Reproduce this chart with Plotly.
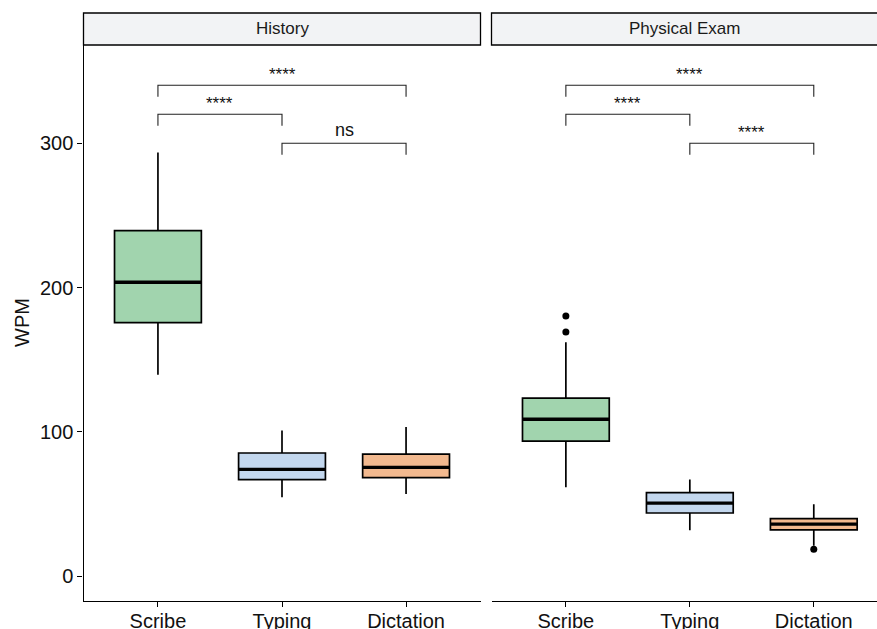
import plotly.graph_objects as go

W, H = 877, 629

panels = ["History", "Physical Exam"]
methods = ["Scribe", "Typing", "Dictation"]
colors = ["#A1D4AE", "#C3D7EE", "#F2B98F"]

# History
hist_q1 = [175.7, 66.8, 68.2]
hist_med = [203.7, 74.0, 75.4]
hist_q3 = [239.5, 85.3, 84.6]
hist_lo = [139.6, 54.6, 56.9]
hist_hi = [293.6, 101.0, 103.3]
hist_out = [[], [], []]

# Physical Exam
pe_q1 = [93.6, 43.7, 32.0]
pe_med = [108.7, 50.6, 36.0]
pe_q3 = [123.4, 57.8, 39.8]
pe_lo = [61.5, 31.7, 21.0]
pe_hi = [162.1, 67.0, 49.8]
pe_out = [[180.3, 169.2], [], [18.5]]

# significance brackets (group index 1-based)
bracket_g1 = [1, 1, 2]
bracket_g2 = [3, 2, 3]
bracket_y = [340.3, 320.2, 300.1]
hist_labels = ["****", "****", "ns"]
pe_labels = ["****", "****", "****"]

yticks = [0, 100, 200, 300]

FONT = "Liberation Sans, Arial, sans-serif"
BOXW = 0.7
TIP = 8.0

fig = go.Figure()

data = [
    (hist_q1, hist_med, hist_q3, hist_lo, hist_hi, hist_out, hist_labels),
    (pe_q1, pe_med, pe_q3, pe_lo, pe_hi, pe_out, pe_labels),
]

for p, (q1, med, q3, lo, hi, outs, labels) in enumerate(data):
    xa = "x" if p == 0 else "x2"
    for i, m in enumerate(methods):
        xi = i + 1
        fig.add_trace(go.Box(
            x=[xi], q1=[q1[i]], median=[med[i]], q3=[q3[i]],
            lowerfence=[lo[i]], upperfence=[hi[i]],
            width=BOXW, fillcolor=colors[i],
            line=dict(color="black", width=1.7),
            whiskerwidth=0, boxpoints=False,
            xaxis=xa, yaxis="y", showlegend=False, hoverinfo="skip",
        ))
        # thick median line
        fig.add_trace(go.Scatter(
            x=[xi - BOXW / 2, xi + BOXW / 2], y=[med[i], med[i]],
            mode="lines", line=dict(color="black", width=3.3),
            xaxis=xa, yaxis="y", showlegend=False, hoverinfo="skip",
        ))
        if outs[i]:
            fig.add_trace(go.Scatter(
                x=[xi] * len(outs[i]), y=outs[i], mode="markers",
                marker=dict(color="black", size=7),
                xaxis=xa, yaxis="y", showlegend=False, hoverinfo="skip",
            ))
    # brackets
    for g1, g2, by, lab in zip(bracket_g1, bracket_g2, bracket_y, labels):
        fig.add_trace(go.Scatter(
            x=[g1, g1, g2, g2], y=[by - TIP, by, by, by - TIP],
            mode="lines", line=dict(color="#222222", width=1.1),
            xaxis=xa, yaxis="y", showlegend=False, hoverinfo="skip",
        ))
        fig.add_annotation(
            x=(g1 + g2) / 2, y=by, xref=xa, yref="y", text=lab,
            showarrow=False, xanchor="center", yanchor="bottom",
            yshift=1 if lab == "ns" else -1,
            font=dict(family=FONT, size=18 if lab == "ns" else 17, color="#111111"),
        )

# layout geometry (pixels -> paper)
x1d = [83.5 / W, 480.5 / W]
x2d = [491.5 / W, 1.0]
yd = [(H - 601) / H, (H - 45) / H]

axis_common = dict(
    showgrid=False, zeroline=False, showline=True, linecolor="black", linewidth=1.3,
    ticks="outside", ticklen=5, tickwidth=1.3, tickcolor="black", automargin=False,
    tickfont=dict(family=FONT, size=20, color="#111111"),
)

fig.update_layout(
    width=W, height=H,
    margin=dict(l=0, r=0, t=0, b=0, autoexpand=False),
    plot_bgcolor="white", paper_bgcolor="white",
    xaxis=dict(domain=x1d, range=[0.4, 3.6], tickvals=[1, 2, 3], ticktext=methods,
               anchor="y", ticklabelstandoff=-3, **axis_common),
    xaxis2=dict(domain=x2d, range=[0.4, 3.51], tickvals=[1, 2, 3], ticktext=methods,
                anchor="y", ticklabelstandoff=-3, **axis_common),
    yaxis=dict(domain=yd, range=[-17.3, 368.2], tickvals=yticks, anchor="x", **axis_common),
)

# y-axis title
fig.add_annotation(
    x=22 / W, y=(H - 323) / H, xref="paper", yref="paper", text="WPM",
    xanchor="center", yanchor="middle",
    textangle=-90, showarrow=False, font=dict(family=FONT, size=20, color="#111111"),
)

# facet strips
strip_y0 = (H - 45) / H
strip_y1 = (H - 13) / H
for dom, title in zip([x1d, [x2d[0], 1.01]], panels):
    fig.add_shape(type="rect", xref="paper", yref="paper",
                  x0=dom[0], x1=dom[1], y0=strip_y0, y1=strip_y1,
                  fillcolor="#F2F3F5", line=dict(color="black", width=1.3), layer="above")
for dom, title in zip([x1d, x2d], panels):
    fig.add_annotation(
        x=(dom[0] + dom[1]) / 2, y=(strip_y0 + strip_y1) / 2, xref="paper", yref="paper",
        text=title, showarrow=False, xanchor="center", yanchor="middle",
        font=dict(family=FONT, size=17, color="#1A1A1A"),
    )

fig.write_html(
    "out.html",
    config={"displayModeBar": False},
    post_script="document.body.style.margin='0';document.body.style.overflow='hidden';",
)
